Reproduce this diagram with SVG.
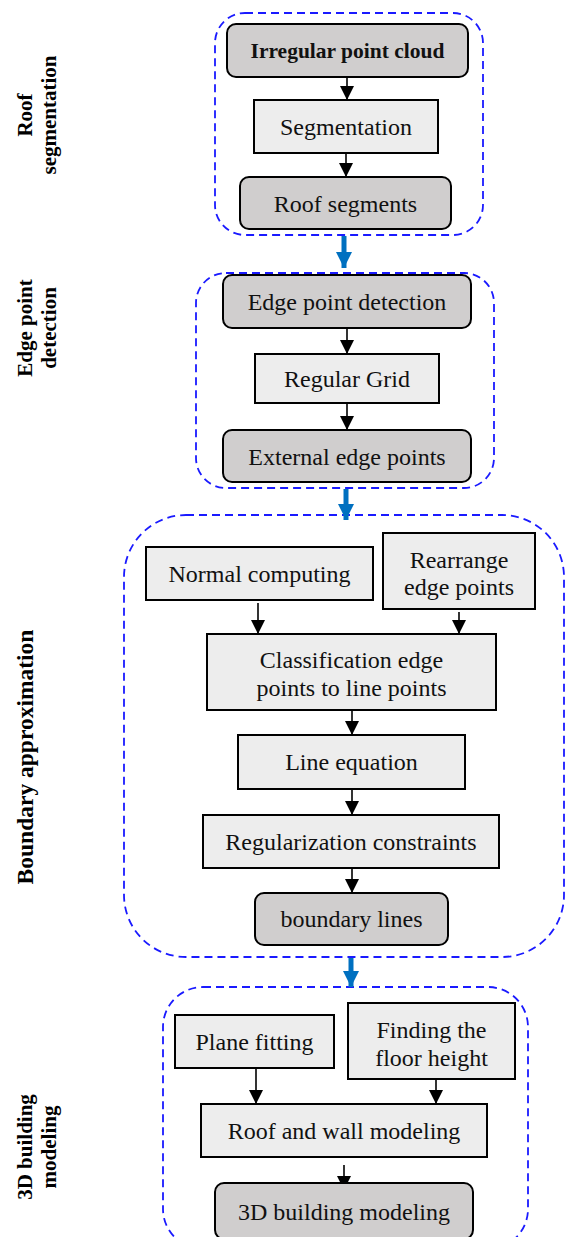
<svg xmlns="http://www.w3.org/2000/svg" width="565" height="1237" viewBox="0 0 565 1237">
<defs>
<style>
.grp{fill:none;stroke:#1a1aff;stroke-width:1.8;stroke-dasharray:8,5}
.dark{fill:#d0cece;stroke:#000;stroke-width:2}
.light{fill:#ededed;stroke:#000;stroke-width:2}
.t{font-family:"Liberation Serif","Times New Roman",serif;font-size:24px;fill:#111;text-anchor:middle}
.b{font-weight:bold;font-size:21.5px}
.lab{font-family:"Liberation Serif","Times New Roman",serif;font-size:21px;font-weight:bold;fill:#000;text-anchor:middle}
.big{font-size:23.5px}
.conn{stroke:#000;stroke-width:1.6;fill:none;marker-end:url(#ah)}
.blue{stroke:#0070c0;stroke-width:5;fill:none;marker-end:url(#bh)}
</style>
<marker id="ah" markerUnits="userSpaceOnUse" markerWidth="14" markerHeight="14" viewBox="0 0 14 14" refX="14" refY="7" orient="auto">
<path d="M0,0 L14,7 L0,14 Z" fill="#000"/>
</marker>
<marker id="bh" markerUnits="userSpaceOnUse" markerWidth="16" markerHeight="16" viewBox="0 0 16 16" refX="16" refY="8" orient="auto">
<path d="M0,0 L16,8 L0,16 Z" fill="#0070c0"/>
</marker>
</defs>
<rect width="565" height="1237" fill="#fff"/>

<g id="groups">
<rect id="g-roof" class="grp" x="215" y="13" width="268" height="222" rx="30"/>
<rect id="g-edge" class="grp" x="196" y="273" width="298" height="215" rx="30"/>
<rect id="g-boundary" class="grp" x="124" y="515" width="440" height="442" rx="62"/>
<rect id="g-model" class="grp" x="163" y="987" width="365" height="262" rx="40"/>
</g>

<g id="labels">
<text class="lab" transform="translate(32,115) rotate(-90)">Roof</text>
<text class="lab" transform="translate(56,115) rotate(-90)">segmentation</text>
<text class="lab" transform="translate(32,328) rotate(-90)">Edge point</text>
<text class="lab" transform="translate(56,328) rotate(-90)">detection</text>
<text class="lab big" transform="translate(33,757) rotate(-90)">Boundary approximation</text>
<text class="lab" transform="translate(32,1147) rotate(-90)">3D building</text>
<text class="lab" transform="translate(56,1147) rotate(-90)">modeling</text>
</g>

<g id="connectors">
<line class="conn" x1="347" y1="77" x2="347" y2="100"/>
<line class="conn" x1="346" y1="153" x2="346" y2="177"/>
<line class="conn" x1="347" y1="328" x2="347" y2="354"/>
<line class="conn" x1="347" y1="403" x2="347" y2="430"/>
<line class="conn" x1="258" y1="603" x2="258" y2="634"/>
<line class="conn" x1="459" y1="612" x2="459" y2="634"/>
<line class="conn" x1="352" y1="710" x2="352" y2="735"/>
<line class="conn" x1="352" y1="789" x2="352" y2="815"/>
<line class="conn" x1="352" y1="868" x2="352" y2="893"/>
<line class="conn" x1="256" y1="1068" x2="256" y2="1104"/>
<line class="conn" x1="436" y1="1079" x2="436" y2="1104"/>
<line class="conn" x1="344" y1="1165" x2="344" y2="1190"/>
<line class="blue" x1="344" y1="236" x2="344" y2="268"/>
<line class="blue" x1="346" y1="489" x2="346" y2="520"/>
<line class="blue" x1="351" y1="958" x2="351" y2="987"/>
</g>

<g id="n1"><rect class="dark" x="227" y="24" width="241" height="53" rx="9"/><text class="t b" x="347.5" y="58">Irregular point cloud</text></g>
<g id="n2"><rect class="light" x="254" y="100" width="184" height="53"/><text class="t" x="346" y="135">Segmentation</text></g>
<g id="n3"><rect class="dark" x="240" y="177" width="211" height="52" rx="9"/><text class="t" x="345.5" y="212">Roof segments</text></g>
<g id="n4"><rect class="dark" x="223" y="275" width="248" height="53" rx="9"/><text class="t" x="347" y="310">Edge point detection</text></g>
<g id="n5"><rect class="light" x="255" y="354" width="184" height="49"/><text class="t" x="347" y="387">Regular Grid</text></g>
<g id="n6"><rect class="dark" x="223" y="430" width="248" height="52" rx="9"/><text class="t" x="347" y="465">External edge points</text></g>
<g id="n7"><rect class="light" x="146" y="547" width="227" height="53"/><text class="t" x="259.5" y="582">Normal computing</text></g>
<g id="n8"><rect class="light" x="383" y="533" width="152" height="76"/><text class="t" x="459" y="568">Rearrange</text><text class="t" x="459" y="595">edge points</text></g>
<g id="n9"><rect class="light" x="207" y="634" width="289" height="76"/><text class="t" x="351.5" y="668">Classification edge</text><text class="t" x="351.5" y="696">points to line points</text></g>
<g id="n10"><rect class="light" x="238" y="735" width="227" height="54"/><text class="t" x="351.5" y="770">Line equation</text></g>
<g id="n11"><rect class="light" x="203" y="815" width="296" height="53"/><text class="t" x="351" y="850">Regularization constraints</text></g>
<g id="n12"><rect class="dark" x="255" y="893" width="193" height="52" rx="9"/><text class="t" x="351.5" y="927">boundary lines</text></g>
<g id="n13"><rect class="light" x="175" y="1015" width="159" height="53"/><text class="t" x="254.5" y="1050">Plane fitting</text></g>
<g id="n14"><rect class="light" x="348" y="1003" width="167" height="76"/><text class="t" x="431.5" y="1038">Finding the</text><text class="t" x="431.5" y="1066">floor height</text></g>
<g id="n15"><rect class="light" x="201" y="1104" width="286" height="53"/><text class="t" x="344" y="1139">Roof and wall modeling</text></g>
<g id="n16"><rect class="dark" x="215" y="1183" width="258" height="56" rx="9"/><text class="t" x="344" y="1220">3D building modeling</text></g>
</svg>
